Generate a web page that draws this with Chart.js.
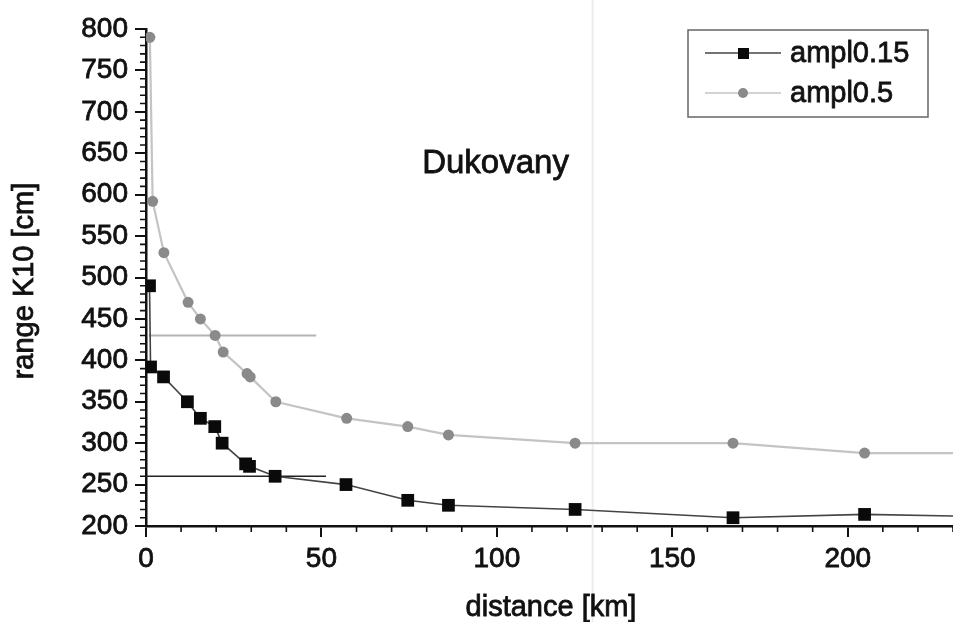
<!DOCTYPE html>
<html>
<head>
<meta charset="utf-8">
<script src="https://cdn.jsdelivr.net/npm/chart.js@4.4.1/dist/chart.umd.min.js"></script>
<style>
  body { margin: 0; background: #fff; }
  canvas { display: block; }
</style>
</head>
<body>
<canvas id="rangeChart" width="953" height="622"></canvas>
<script>
// measured distances [km] and K10 ranges [cm]
var distA015 = [1, 1.3, 5, 11.8, 15.5, 19.6, 21.7, 28.4, 29.5, 36.8, 57, 74.6, 86.2, 122.3, 167.3, 204.8];
var rangeA015 = [490, 392, 380, 350, 330, 320, 300, 275, 272, 260, 250, 231, 225, 220, 210, 214];
var distA05 = [1.1, 1.9, 5.1, 12, 15.5, 19.7, 22, 28.8, 29.7, 37, 57.2, 74.6, 86.2, 122.3, 167.3, 204.8];
var rangeA05 = [790, 592, 530, 470, 450, 430, 410, 384, 380, 350, 330, 320, 310, 300, 300, 288];

// line continuation to the right edge of the plot
var tailDist = 230;
var tailA015 = 212;
var tailA05 = 288;

// reference levels
var refGray = { from: 0.8, to: 48.5, level: 430 };
var refBlack = { from: 0, to: 51.3, level: 260 };
var foldDist = 127.3;

var xTicks = [0, 50, 100, 150, 200];
var yTicks = [200, 250, 300, 350, 400, 450, 500, 550, 600, 650, 700, 750, 800];

var FONT = "'Liberation Sans', Arial, Helvetica, sans-serif";
var INK = '#111';

function toPoints(xs, ys, tx, ty) {
  var pts = xs.map(function (x, i) { return { x: x, y: ys[i] }; });
  pts.push({ x: tx, y: ty });
  return pts;
}

function radii(n, r) {
  var out = [];
  for (var i = 0; i < n; i++) out.push(r);
  out.push(0);
  return out;
}

// filled text with a thin outline so it reads a bit heavier
function inkText(ctx, text, x, y, size) {
  ctx.font = size + 'px ' + FONT;
  ctx.fillStyle = INK;
  ctx.strokeStyle = INK;
  ctx.lineWidth = 0.8;
  ctx.fillText(text, x, y);
  ctx.strokeText(text, x, y);
}

// minor ticks every 10 units on both axes
var minorTicks = {
  id: 'minorTicks',
  afterDraw: function (chart) {
    var ctx = chart.ctx, x = chart.scales.x, y = chart.scales.y;
    ctx.save();
    ctx.strokeStyle = INK;
    ctx.lineWidth = 1.6;
    ctx.beginPath();
    for (var v = 200; v <= 800; v += 10) {
      if (v % 50 === 0) continue;
      var py = y.getPixelForValue(v);
      ctx.moveTo(x.left - 6, py);
      ctx.lineTo(x.left, py);
    }
    for (var u = 10; u <= 230; u += 10) {
      if (u % 50 === 0) continue;
      var px = x.getPixelForValue(u);
      ctx.moveTo(px, y.bottom);
      ctx.lineTo(px, y.bottom + 6);
    }
    ctx.stroke();
    ctx.restore();
  }
};

// faint vertical crease, axis titles and the site label
var decorations = {
  id: 'decorations',
  beforeDatasetsDraw: function (chart) {
    var ctx = chart.ctx, x = chart.scales.x;
    var px = x.getPixelForValue(foldDist);
    ctx.save();
    ctx.strokeStyle = '#ededed';
    ctx.lineWidth = 2;
    ctx.beginPath();
    ctx.moveTo(px, 0);
    ctx.lineTo(px, chart.height);
    ctx.stroke();
    ctx.restore();
  },
  afterDraw: function (chart) {
    var ctx = chart.ctx, x = chart.scales.x, y = chart.scales.y;
    ctx.save();
    ctx.textBaseline = 'alphabetic';
    ctx.textAlign = 'left';
    inkText(ctx, 'Dukovany', x.getPixelForValue(78.7), y.getPixelForValue(626), 33);

    ctx.textAlign = 'center';
    inkText(ctx, 'distance [km]', 551, 616, 29);

    ctx.translate(33, 281);
    ctx.rotate(-Math.PI / 2);
    inkText(ctx, 'range K10 [cm]', 0, 0, 29);
    ctx.restore();
  }
};

// boxed legend with line + marker samples
var boxLegend = {
  id: 'boxLegend',
  afterDraw: function (chart) {
    var ctx = chart.ctx;
    var bx = 688, by = 30, bw = 240, bh = 87;
    ctx.save();
    ctx.fillStyle = '#fff';
    ctx.fillRect(bx, by, bw, bh);
    ctx.strokeStyle = '#666';
    ctx.lineWidth = 1.5;
    ctx.strokeRect(bx, by, bw, bh);
    chart.data.datasets.slice(0, 2).forEach(function (ds, i) {
      var cy = by + 23 + i * 40;
      ctx.strokeStyle = ds.borderColor;
      ctx.lineWidth = 1.5;
      ctx.beginPath();
      ctx.moveTo(705, cy);
      ctx.lineTo(781, cy);
      ctx.stroke();
      ctx.fillStyle = ds.pointBackgroundColor;
      if (ds.pointStyle === 'rect') {
        ctx.fillRect(738, cy - 5, 11, 11);
      } else {
        ctx.beginPath();
        ctx.arc(743, cy, 5, 0, Math.PI * 2);
        ctx.fill();
      }
      ctx.textAlign = 'left';
      ctx.textBaseline = 'middle';
      inkText(ctx, ds.label, 790, cy + 1, 29);
    });
    ctx.restore();
  }
};

var ctx = document.getElementById('rangeChart').getContext('2d');
var rangeChart = new Chart(ctx, {
  type: 'scatter',
  data: {
    datasets: [
      {
        label: 'ampl0.15',
        data: toPoints(distA015, rangeA015, tailDist, tailA015),
        showLine: true,
        borderColor: '#444',
        borderWidth: 1.6,
        pointStyle: 'rect',
        pointRadius: radii(distA015.length, 9),
        pointBackgroundColor: '#0a0a0a',
        pointBorderWidth: 0
      },
      {
        label: 'ampl0.5',
        data: toPoints(distA05, rangeA05, tailDist, tailA05),
        showLine: true,
        borderColor: '#c4c4c4',
        borderWidth: 2.2,
        pointStyle: 'circle',
        pointRadius: radii(distA05.length, 5.5),
        pointBackgroundColor: '#8a8a8a',
        pointBorderWidth: 0
      },
      {
        label: 'ref430',
        data: [{ x: refGray.from, y: refGray.level }, { x: refGray.to, y: refGray.level }],
        showLine: true,
        borderColor: '#b4b4b4',
        borderWidth: 2,
        pointRadius: 0
      },
      {
        label: 'ref260',
        data: [{ x: refBlack.from, y: refBlack.level }, { x: refBlack.to, y: refBlack.level }],
        showLine: true,
        borderColor: '#222',
        borderWidth: 1.6,
        pointRadius: 0
      }
    ]
  },
  options: {
    responsive: false,
    animation: false,
    layout: { autoPadding: false, padding: { top: 29, right: 0, left: 0, bottom: 0 } },
    plugins: {
      legend: { display: false },
      tooltip: { enabled: false }
    },
    scales: {
      x: {
        type: 'linear',
        min: 0,
        max: 230,
        afterFit: function (scale) {
          scale.height = 96;
          scale.paddingLeft = 0;
          scale.paddingRight = 0;
        },
        afterBuildTicks: function (scale) {
          scale.ticks = xTicks.map(function (v) { return { value: v }; });
        },
        border: { display: true, color: INK, width: 2.5 },
        grid: { drawOnChartArea: false, drawTicks: true, tickLength: 11, color: INK, lineWidth: 2 },
        ticks: {
          color: INK, font: { family: FONT, size: 28 }, padding: 5, maxRotation: 0,
          textStrokeColor: INK, textStrokeWidth: 0.8
        },
        title: { display: false }
      },
      y: {
        type: 'linear',
        min: 200,
        max: 800,
        afterFit: function (scale) {
          scale.width = 146;
          scale.paddingTop = 0;
          scale.paddingBottom = 0;
        },
        afterBuildTicks: function (scale) {
          scale.ticks = yTicks.map(function (v) { return { value: v }; });
        },
        border: { display: true, color: INK, width: 2.5 },
        grid: { drawOnChartArea: false, drawTicks: true, tickLength: 11, color: INK, lineWidth: 2 },
        ticks: {
          color: INK, font: { family: FONT, size: 28 }, padding: 7,
          textStrokeColor: INK, textStrokeWidth: 0.8
        },
        title: { display: false }
      }
    }
  },
  plugins: [minorTicks, decorations, boxLegend]
});
</script>
</body>
</html>
